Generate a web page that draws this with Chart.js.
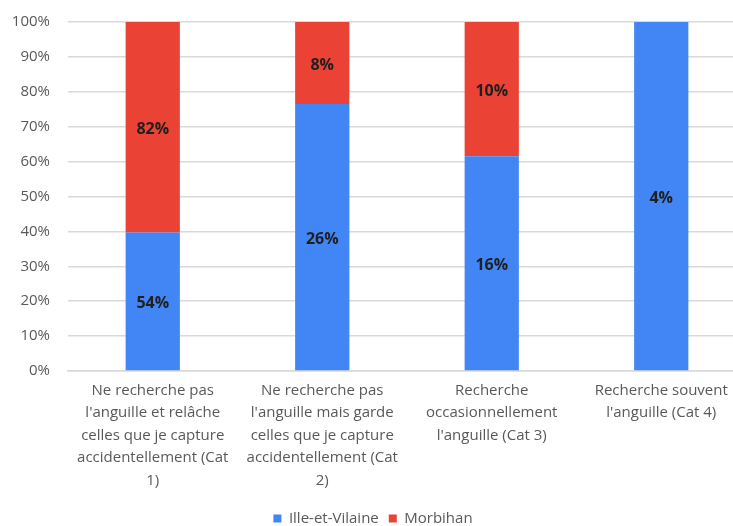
<!DOCTYPE html>
<html>
<head>
<meta charset="utf-8">
<script src="https://cdn.jsdelivr.net/npm/chart.js@4/dist/chart.umd.min.js"></script>
<style>
  html, body { margin: 0; padding: 0; background: #fff; overflow: hidden; }
  #wrap { width: 746px; height: 536px; position: relative; }
</style>
</head>
<body>
<div id="wrap"><canvas id="c"></canvas></div>
<script>
const categories = [
  ["Ne recherche pas", "l'anguille et relâche", "celles que je capture", "accidentellement (Cat", "1)"],
  ["Ne recherche pas", "l'anguille mais garde", "celles que je capture", "accidentellement (Cat", "2)"],
  ["Recherche", "occasionnellement", "l'anguille (Cat 3)"],
  ["Recherche souvent", "l'anguille (Cat 4)"]
];
const seriesNames = ["Ille-et-Vilaine", "Morbihan"];
const illeEtVilaine = [54, 26, 16, 4];
const morbihan = [82, 8, 10, 0];
const yTickStep = 10;
const colors = ["#4285F4", "#EA4335"];

// 100% stacked: bar heights are each series' share of the category total
const totals = illeEtVilaine.map((v, i) => v + morbihan[i]);
const share = arr => arr.map((v, i) => totals[i] ? v / totals[i] * 100 : 0);
const rawValues = [illeEtVilaine, morbihan];

const FONT = "'Open Sans', 'DejaVu Sans', sans-serif";

const labelPlugin = {
  id: 'valueLabels',
  afterDatasetsDraw(chart) {
    const ctx = chart.ctx;
    ctx.save();
    ctx.font = "bold 16px " + FONT;
    ctx.fillStyle = "#1f1f1f";
    ctx.textAlign = "center";
    ctx.textBaseline = "middle";
    chart.data.datasets.forEach((ds, di) => {
      const meta = chart.getDatasetMeta(di);
      meta.data.forEach((bar, i) => {
        const raw = rawValues[di][i];
        if (!raw) return;
        const p = bar.getProps(['x', 'y', 'base'], true);
        ctx.fillText(raw + "%", p.x, (p.y + p.base) / 2 + 2);
      });
    });
    ctx.restore();
  }
};

new Chart(document.getElementById('c'), {
  type: 'bar',
  data: {
    labels: categories,
    datasets: [
      { label: seriesNames[0], data: share(illeEtVilaine), backgroundColor: colors[0], borderWidth: 0 },
      { label: seriesNames[1], data: share(morbihan), backgroundColor: colors[1], borderWidth: 0 }
    ]
  },
  options: {
    responsive: true,
    maintainAspectRatio: false,
    animation: false,
    layout: { padding: { top: 22, right: 0, left: 0, bottom: 0 } },
    datasets: { bar: { categoryPercentage: 0.8, barPercentage: 0.4 } },
    plugins: {
      tooltip: { enabled: false },
      legend: {
        position: 'bottom',
        labels: {
          boxWidth: 8, boxHeight: 8, padding: 10,
          color: '#595959',
          font: { family: FONT, size: 15 }
        }
      }
    },
    scales: {
      x: {
        stacked: true,
        grid: { display: false, drawTicks: false },
        border: { display: true, color: '#d9d9d9', width: 1.5 },
        ticks: {
          color: '#595959', padding: 8, maxRotation: 0, autoSkip: false,
          font: { family: FONT, size: 15, lineHeight: 1.5 }
        },
        afterFit(s) { s.height = 130; }
      },
      y: {
        stacked: true,
        min: 0, max: 100,
        grid: { color: '#d9d9d9', lineWidth: 1.5, drawTicks: false },
        border: { display: false },
        ticks: {
          stepSize: yTickStep,
          padding: 18,
          color: '#595959',
          font: { family: FONT, size: 15 },
          callback: v => v + '%'
        },
        afterFit(s) { s.width = 68; s.paddingTop = 0; s.paddingBottom = 0; }
      }
    }
  },
  plugins: [labelPlugin]
});
</script>
</body>
</html>
